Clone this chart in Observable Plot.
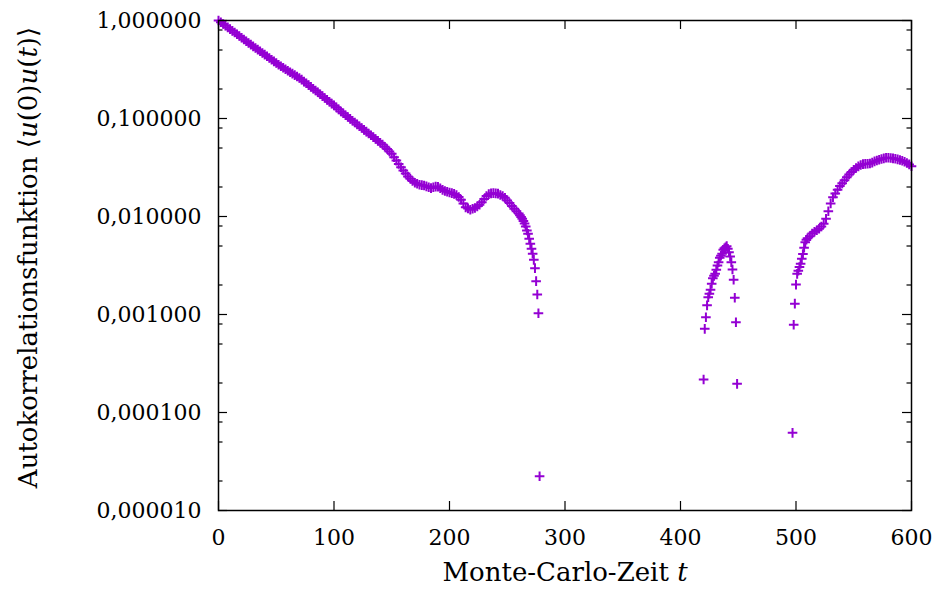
<!DOCTYPE html>
<html>
<head>
<meta charset="utf-8">
<script src="https://cdn.jsdelivr.net/npm/d3@7"></script>
<script src="https://cdn.jsdelivr.net/npm/@observablehq/plot@0.6"></script>
<style>
  html, body { margin: 0; padding: 0; background: #fff; }
</style>
</head>
<body>
<div id="chart"></div>
<script>
// ---- data ----
const seg1T = [0,2,4,6,8,10,12,14,16,18,20,22,24,26,28,30,32,34,36,38,40,42,44,46,48,50,52,54,56,58,60,62,64,66,68,70,72,74,76,78,80,82,84,86,88,90,92,94,96,98,100,102,104,106,108,110,112,114,116,118,120,122,124,126,128,130,132,134,136,138,140,142,144,146,148,150,152,154,156,158,160,162,164,166,168,170,172,174,176,178,180,182,184,186,188,190,192,194,196,198,200,202,204,206,208,210,212,214,216,218,220,222,224,226,228,230,232,234,236,238,240,242,244,246,248,250,252,254,256,258,260,261,262,263,264,265,266,267,268,269,270,271,272,273,274,275,276,277,278];
const seg1V = [1.000,0.960,0.922,0.885,0.850,0.816,0.784,0.753,0.723,0.694,0.666,0.640,0.614,0.590,0.567,0.545,0.524,0.504,0.485,0.466,0.448,0.431,0.414,0.398,0.383,0.368,0.354,0.341,0.329,0.318,0.307,0.296,0.287,0.277,0.268,0.259,0.249,0.238,0.229,0.219,0.210,0.201,0.193,0.185,0.177,0.169,0.162,0.155,0.148,0.142,0.136,0.130,0.124,0.118,0.113,0.108,0.1035,0.0991,0.0949,0.0910,0.0871,0.0834,0.0800,0.0766,0.0734,0.0703,0.0674,0.0646,0.0618,0.0591,0.0566,0.0542,0.0515,0.0488,0.0461,0.0437,0.0403,0.0372,0.0344,0.0318,0.0295,0.0274,0.0256,0.0243,0.0230,0.0221,0.0216,0.0211,0.0209,0.0207,0.0203,0.0199,0.0195,0.0199,0.0202,0.0201,0.0194,0.0187,0.0182,0.0179,0.0176,0.0173,0.0170,0.0166,0.0158,0.0148,0.0136,0.0124,0.0121,0.0117,0.0120,0.0122,0.0127,0.0132,0.0140,0.0151,0.0162,0.0169,0.0172,0.0173,0.0172,0.0171,0.0166,0.0162,0.0155,0.0146,0.0137,0.0128,0.0120,0.0113,0.0107,0.0103,0.0099,0.0095,0.0090,0.0085,0.0079,0.0072,0.00666,0.00592,0.00526,0.00468,0.00417,0.00361,0.00297,0.00219,0.00160,0.00103,0.0000224];

const seg2T = [420,421,422,423,424,425,426,427,428,429,430,431,432,433,434,435,436,437,438,439,440,441,442,443,444,445,446,447,448,449];
const seg2V = [2.17e-4,7.14e-4,9.38e-4,1.24e-3,1.50e-3,1.63e-3,1.79e-3,2.06e-3,2.35e-3,2.48e-3,2.60e-3,2.86e-3,3.16e-3,3.42e-3,3.79e-3,3.98e-3,4.17e-3,4.57e-3,4.75e-3,4.86e-3,4.98e-3,4.68e-3,4.32e-3,3.91e-3,3.42e-3,2.88e-3,2.26e-3,1.48e-3,8.34e-4,1.96e-4];

const seg3T = [497,498,499,500,501,502,503,504,505,506,507,508,509,510,512,514,516,518,520,522,524,526,528,530,532,534,536,538,540,542,544,546,548,550,552,554,556,558,560,562,564,566,568,570,572,574,576,578,580,582,584,586,588,590,592,594,596,598,600];
const seg3V = [6.2e-5,7.85e-4,1.29e-3,2.02e-3,2.60e-3,2.80e-3,3.05e-3,3.30e-3,3.70e-3,4.15e-3,4.80e-3,5.45e-3,5.80e-3,6.00e-3,6.30e-3,6.70e-3,7.00e-3,7.25e-3,7.50e-3,7.90e-3,8.45e-3,9.50e-3,1.13e-2,1.36e-2,1.57e-2,1.72e-2,1.88e-2,2.05e-2,2.18e-2,2.35e-2,2.52e-2,2.68e-2,2.85e-2,3.00e-2,3.12e-2,3.25e-2,3.35e-2,3.42e-2,3.44e-2,3.45e-2,3.48e-2,3.55e-2,3.65e-2,3.73e-2,3.80e-2,3.86e-2,3.92e-2,3.97e-2,3.97e-2,3.95e-2,3.92e-2,3.88e-2,3.83e-2,3.77e-2,3.70e-2,3.62e-2,3.52e-2,3.40e-2,3.26e-2];

const xTicks = [0,100,200,300,400,500,600];
const yTicks = [1e-5,1e-4,1e-3,1e-2,1e-1,1];
const yTickLabels = ["0,000010","0,000100","0,001000","0,010000","0,100000","1,000000"];
const yMinorTicks = [2e-5,5e-5,8e-5,2e-4,5e-4,8e-4,2e-3,5e-3,8e-3,2e-2,5e-2,8e-2,2e-1,5e-1,8e-1];
const xLabel = "Monte-Carlo-Zeit t";
const yLabel = "Autokorrelationsfunktion ⟨u(0)u(t)⟩";

// ---- build table ----
const points = [];
[[seg1T, seg1V], [seg2T, seg2V], [seg3T, seg3V]].forEach(([ts, vs]) => {
  ts.forEach((t, i) => points.push({t, v: vs[i]}));
});

// ---- layout / style ----
const W = 935, H = 601;
const mL = 218, mR = 24, mT = 20, mB = 91;
const fw = W - mL - mR, fh = H - mT - mB;
const majorLen = 9, minorLen = 4.5;
const color = "#9400d3";
const font = "'DejaVu Serif', serif";

const plusSymbol = {
  draw(ctx, size) {
    const r = Math.sqrt(size / Math.PI);
    ctx.moveTo(-r, 0); ctx.lineTo(r, 0);
    ctx.moveTo(0, -r); ctx.lineTo(0, r);
  }
};

const chart = Plot.plot({
  width: W, height: H,
  marginLeft: mL, marginRight: mR, marginTop: mT, marginBottom: mB,
  style: {fontFamily: font, fontSize: "22px", color: "black", background: "white"},
  x: {domain: [0, 600], axis: null},
  y: {type: "log", domain: [1e-5, 1], axis: null},
  marks: [
    // ticks (inward, mirrored)
    Plot.tickX(xTicks, {x: d => d, insetTop: fh - majorLen, stroke: "black", strokeWidth: 1.2}),
    Plot.tickX(xTicks, {x: d => d, insetBottom: fh - majorLen, stroke: "black", strokeWidth: 1.2}),
    Plot.tickY(yTicks, {y: d => d, insetRight: fw - majorLen, stroke: "black", strokeWidth: 1.2}),
    Plot.tickY(yTicks, {y: d => d, insetLeft: fw - majorLen, stroke: "black", strokeWidth: 1.2}),
    Plot.tickY(yMinorTicks, {y: d => d, insetRight: fw - minorLen, stroke: "black", strokeWidth: 1.2}),
    Plot.tickY(yMinorTicks, {y: d => d, insetLeft: fw - minorLen, stroke: "black", strokeWidth: 1.2}),
    // tick labels
    Plot.axisX({ticks: xTicks, tickSize: 0, tickPadding: 19, tickFormat: d => String(d), label: null, fontSize: 22, fontFamily: font}),
    Plot.axisY({ticks: yTicks, tickSize: 0, tickPadding: 17, tickFormat: d => yTickLabels[yTicks.indexOf(d)], label: null, fontSize: 22, fontFamily: font}),
    // data
    Plot.dot(points, {x: "t", y: "v", symbol: plusSymbol, r: 4.8, fill: "none", stroke: color, strokeWidth: 2}),
    // frame
    Plot.frame({stroke: "black", strokeWidth: 1.5}),
    // axis titles
    Plot.text([xLabel], {text: d => d, frameAnchor: "bottom", dy: 70, fontSize: 26, fontFamily: font, fill: "black"}),
    Plot.text([yLabel], {text: d => d, frameAnchor: "left", textAnchor: "middle", dx: -190, dy: -8, rotate: -90, fontSize: 26, fontFamily: font, fill: "black"})
  ]
});

// italicise the math variables in the axis titles (kept as real text)
chart.querySelectorAll("text").forEach(el => {
  const s = el.textContent;
  if (s === xLabel) {
    el.textContent = "";
    const a = document.createElementNS("http://www.w3.org/2000/svg", "tspan");
    a.textContent = "Monte-Carlo-Zeit ";
    const b = document.createElementNS("http://www.w3.org/2000/svg", "tspan");
    b.textContent = "t"; b.setAttribute("font-style", "italic");
    el.append(a, b);
  } else if (s === yLabel) {
    el.textContent = "";
    const parts = [["Autokorrelationsfunktion ⟨", false], ["u", true], ["(0)", false], ["u", true], ["(", false], ["t", true], [")⟩", false]];
    parts.forEach(([txt, it]) => {
      const sp = document.createElementNS("http://www.w3.org/2000/svg", "tspan");
      sp.textContent = txt;
      if (it) sp.setAttribute("font-style", "italic");
      el.appendChild(sp);
    });
  }
});

document.getElementById("chart").appendChild(chart);
</script>
</body>
</html>
